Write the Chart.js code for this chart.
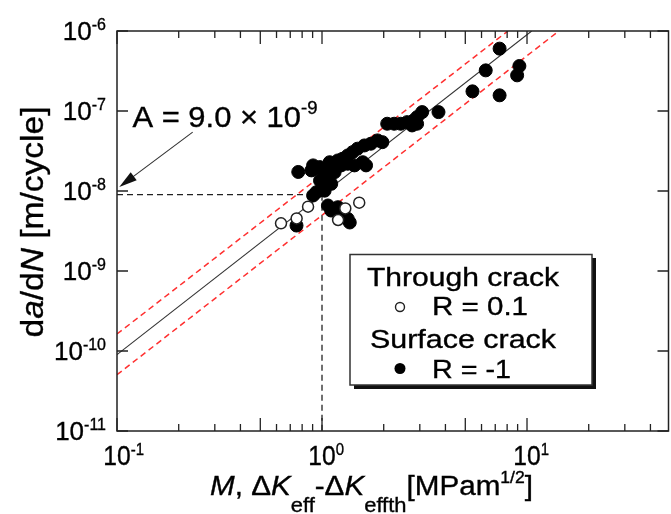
<!DOCTYPE html>
<html>
<head>
<meta charset="utf-8">
<script src="https://cdn.jsdelivr.net/npm/chart.js@4.4.0/dist/chart.umd.min.js"></script>
<style>
  html, body { margin: 0; padding: 0; overflow: hidden; background: #fff; }
  #wrap { width: 676px; height: 514px; position: relative; }
</style>
</head>
<body>
<div id="wrap"><canvas id="crack"></canvas></div>
<script>
// through crack, R = 0.1 (open circles)
const throughX = [0.631, 0.752, 0.855, 1.198, 1.299, 1.519];
const throughY = [3.94e-9, 4.54e-9, 6.37e-9, 4.34e-9, 6.06e-9, 7.14e-9];

// surface crack, R = -1 (filled circles)
const surfaceX = [7.35, 6.29, 9.18, 8.95, 5.42, 7.35, 3.70, 3.08,
  2.08, 2.25, 2.42, 2.60, 2.80, 2.91, 2.75, 2.91,
  1.865, 1.97, 1.73, 1.61, 1.49, 1.41, 1.335, 1.26, 1.195, 1.09, 1.58, 1.64,
  0.922, 0.888, 1.03, 0.766,
  0.905, 0.975, 1.069, 1.069, 1.109, 1.03, 0.939, 0.905, 1.152, 1.24, 1.335, 1.44, 0.978,
  1.069, 1.109, 1.195, 1.26, 1.335, 1.366, 0.751];
const surfaceY = [6.02e-7, 3.22e-7, 3.65e-7, 2.79e-7, 1.76e-7, 1.57e-7, 9.69e-8, 9.69e-8,
  6.93e-8, 6.93e-8, 6.93e-8, 7.26e-8, 7.62e-8, 8.39e-8, 6.60e-8, 6.93e-8,
  4.29e-8, 4.08e-8, 3.90e-8, 3.71e-8, 3.38e-8, 3.06e-8, 2.78e-8, 2.53e-8, 2.41e-8, 2.29e-8, 2.29e-8, 2.09e-8,
  1.90e-8, 1.81e-8, 1.72e-8, 1.73e-8,
  2.09e-8, 1.99e-8, 1.99e-8, 1.49e-8, 1.23e-8, 1.01e-8, 9.66e-9, 8.79e-9, 1.72e-8, 2.09e-8, 2.19e-8, 2.09e-8, 1.35e-8,
  6.59e-9, 5.70e-9, 6.27e-9, 5.19e-9, 4.49e-9, 4.04e-9, 3.70e-9];

// fitted line (A = 9.0e-9) and scatter band, end points
const fitX = [0.1, 10.54];
const fitY = [9e-11, 1e-6];
const upperX = [0.1, 8.07];
const upperY = [1.63e-10, 1e-6];
const lowerX = [0.1, 14.3];
const lowerY = [5.05e-11, 1e-6];

// dashed guide at M = 1
const guideHX = [0.1, 1];
const guideHY = [9e-9, 9e-9];
const guideVX = [1, 1];
const guideVY = [9e-9, 1e-11];

// arrow of the "A = ..." note: tail, tip
const arrowX = [0.234, 0.1026];
const arrowY = [5.45e-8, 1.12e-8];
const noteX = 0.119, noteY = 6.24e-8;

// axes
const xMin = 0.1, xMax = 49;
const yMin = 1e-11, yMax = 1e-6;
const xMajor = [0.1, 1, 10];
const xMid = [0.5, 5];
const xMinor = [0.2, 0.3, 0.4, 0.6, 0.7, 0.8, 0.9, 2, 3, 4, 6, 7, 8, 9, 20, 30, 40];
const xTickExp = ['-1', '0', '1'];
const yMajor = [1e-6, 1e-7, 1e-8, 1e-9, 1e-10, 1e-11];
const yTickExp = ['-6', '-7', '-8', '-9', '-10', '-11'];

const pts = (xs, ys) => xs.map((x, i) => ({ x: x, y: ys[i] }));
const FAM = '"Liberation Sans", Arial, sans-serif';

// draws a run of text pieces (normal / italic / sub / sup), optionally stretched to a width
function rich(ctx, parts, x, y, o) {
  o = o || {};
  let w = 0;
  const ws = parts.map(p => {
    ctx.font = (p.it ? 'italic ' : '') + p.s + 'px ' + FAM;
    const m = ctx.measureText(p.t).width;
    w += m;
    return m;
  });
  const sx = o.width ? o.width / w : (o.sx || 1);
  ctx.save();
  ctx.translate(x, y);
  if (o.rot) ctx.rotate(o.rot);
  ctx.scale(sx, 1);
  let cx = 0;
  if (o.align === 'center') cx = -w / 2;
  else if (o.align === 'right') cx = -w;
  else if (o.align === 'first') cx = -ws[0] / 2;
  ctx.fillStyle = '#000';
  ctx.strokeStyle = '#000';
  ctx.lineWidth = 0.35;
  ctx.textAlign = 'left';
  ctx.textBaseline = 'alphabetic';
  parts.forEach((p, i) => {
    ctx.font = (p.it ? 'italic ' : '') + p.s + 'px ' + FAM;
    ctx.fillText(p.t, cx, p.dy || 0);
    ctx.strokeText(p.t, cx, p.dy || 0);
    cx += ws[i];
  });
  ctx.restore();
}

const framePlugin = {
  id: 'frame',
  afterDraw(chart) {
    const ctx = chart.ctx;
    const a = chart.chartArea;
    const xs = chart.scales.x, ys = chart.scales.y;
    ctx.save();
    ctx.strokeStyle = '#222';
    ctx.lineWidth = 1.5;
    ctx.strokeRect(a.left, a.top, a.right - a.left, a.bottom - a.top);

    // inward ticks
    ctx.lineWidth = 1.3;
    ctx.beginPath();
    const xt = (v, len) => {
      const px = xs.getPixelForValue(v);
      ctx.moveTo(px, a.bottom); ctx.lineTo(px, a.bottom - len);
      ctx.moveTo(px, a.top); ctx.lineTo(px, a.top + len);
    };
    xMajor.forEach(v => xt(v, 13));
    xMid.forEach(v => xt(v, 13));
    xMinor.forEach(v => xt(v, 7));
    yMajor.forEach(v => {
      const py = ys.getPixelForValue(v);
      ctx.moveTo(a.left, py); ctx.lineTo(a.left + 11, py);
      ctx.moveTo(a.right, py); ctx.lineTo(a.right - 11, py);
    });
    ctx.stroke();

    // arrow for the note
    const tx = xs.getPixelForValue(arrowX[0]), ty = ys.getPixelForValue(arrowY[0]);
    const hx = xs.getPixelForValue(arrowX[1]), hy = ys.getPixelForValue(arrowY[1]);
    const ang = Math.atan2(hy - ty, hx - tx);
    ctx.strokeStyle = '#333';
    ctx.lineWidth = 1.1;
    ctx.beginPath();
    ctx.moveTo(tx, ty);
    ctx.lineTo(hx - 14 * Math.cos(ang), hy - 14 * Math.sin(ang));
    ctx.stroke();
    ctx.fillStyle = '#111';
    ctx.beginPath();
    ctx.moveTo(hx, hy);
    ctx.lineTo(hx - 18 * Math.cos(ang) + 5 * Math.sin(ang), hy - 18 * Math.sin(ang) - 5 * Math.cos(ang));
    ctx.lineTo(hx - 18 * Math.cos(ang) - 5 * Math.sin(ang), hy - 18 * Math.sin(ang) + 5 * Math.cos(ang));
    ctx.closePath();
    ctx.fill();
    ctx.restore();

    // tick labels
    xMajor.forEach((v, i) => {
      rich(ctx, [{ t: '10', s: 28 }, { t: xTickExp[i], s: 17, dy: -10 }],
        xs.getPixelForValue(v), 465, { align: 'first', sx: 0.88 });
    });
    yMajor.forEach((v, i) => {
      rich(ctx, [{ t: '10', s: 26 }, { t: yTickExp[i], s: 16, dy: -10 }],
        106, ys.getPixelForValue(v) + 9, { align: 'right' });
    });

    // axis titles
    rich(ctx, [
      { t: 'M', s: 27, it: true }, { t: ', \u0394', s: 27 }, { t: 'K', s: 27, it: true },
      { t: 'eff', s: 20, dy: 17 }, { t: '-\u0394', s: 27 }, { t: 'K', s: 27, it: true },
      { t: 'effth', s: 20, dy: 17 }, { t: '[MPam', s: 27 }, { t: '1/2', s: 16, dy: -12 }, { t: ']', s: 27 }
    ], 210, 495, { width: 323 });
    rich(ctx, [
      { t: 'd', s: 31 }, { t: 'a', s: 31, it: true }, { t: '/d', s: 31 }, { t: 'N', s: 31, it: true },
      { t: ' [m/cycle]', s: 31 }
    ], 43, 222, { rot: -Math.PI / 2, align: 'center', width: 231 });

    // note
    rich(ctx, [{ t: 'A = 9.0 \u00d7 10', s: 30 }, { t: '-9', s: 18, dy: -13 }],
      xs.getPixelForValue(noteX), ys.getPixelForValue(noteY), { width: 185 });

    // legend box with shadow
    ctx.save();
    ctx.fillStyle = '#111';
    ctx.fillRect(354, 258, 242, 131);
    ctx.fillStyle = '#fff';
    ctx.fillRect(350, 254.5, 242, 130.5);
    ctx.strokeStyle = '#333';
    ctx.lineWidth = 1.5;
    ctx.strokeRect(350, 254.5, 242, 130.5);
    ctx.beginPath();
    ctx.arc(400, 307, 4.5, 0, Math.PI * 2);
    ctx.fillStyle = '#fff';
    ctx.fill();
    ctx.lineWidth = 1.4;
    ctx.strokeStyle = '#222';
    ctx.stroke();
    ctx.beginPath();
    ctx.arc(400, 368.5, 5.5, 0, Math.PI * 2);
    ctx.fillStyle = '#000';
    ctx.fill();
    ctx.restore();
    rich(ctx, [{ t: 'Through crack', s: 26 }], 367, 286, { width: 192 });
    rich(ctx, [{ t: 'R = 0.1', s: 26 }], 432, 315, { width: 96 });
    rich(ctx, [{ t: 'Surface crack', s: 26 }], 370, 348, { width: 186 });
    rich(ctx, [{ t: 'R = -1', s: 26 }], 432, 378, { width: 79 });
  }
};

const lineSet = (xs, ys, color, width, dash, ord) => ({
  type: 'line',
  data: pts(xs, ys),
  borderColor: color,
  borderWidth: width,
  borderDash: dash,
  pointRadius: 0,
  fill: false,
  tension: 0,
  order: ord
});

new Chart(document.getElementById('crack'), {
  type: 'scatter',
  data: {
    datasets: [
      {
        label: 'Through crack R = 0.1',
        data: pts(throughX, throughY),
        pointStyle: 'circle',
        pointRadius: 5.5,
        backgroundColor: '#fff',
        borderColor: '#222',
        borderWidth: 1.5,
        order: 0
      },
      {
        label: 'Surface crack R = -1',
        data: pts(surfaceX, surfaceY),
        pointStyle: 'circle',
        pointRadius: 6.5,
        backgroundColor: '#000',
        borderColor: '#000',
        borderWidth: 1,
        order: 1
      },
      lineSet(fitX, fitY, '#333', 1.1, [], 2),
      lineSet(upperX, upperY, '#ff3030', 1.5, [6, 4], 3),
      lineSet(lowerX, lowerY, '#ff3030', 1.5, [6, 4], 3),
      lineSet(guideHX, guideHY, '#222', 1.3, [6, 4], 4),
      lineSet(guideVX, guideVY, '#222', 1.3, [6, 4], 4)
    ]
  },
  options: {
    responsive: true,
    maintainAspectRatio: false,
    animation: false,
    events: [],
    layout: { padding: { left: 117, right: 2, top: 31, bottom: 83 } },
    scales: {
      x: { type: 'logarithmic', min: xMin, max: xMax, display: false },
      y: { type: 'logarithmic', min: yMin, max: yMax, display: false }
    },
    plugins: {
      legend: { display: false },
      tooltip: { enabled: false }
    }
  },
  plugins: [framePlugin]
});
</script>
</body>
</html>
